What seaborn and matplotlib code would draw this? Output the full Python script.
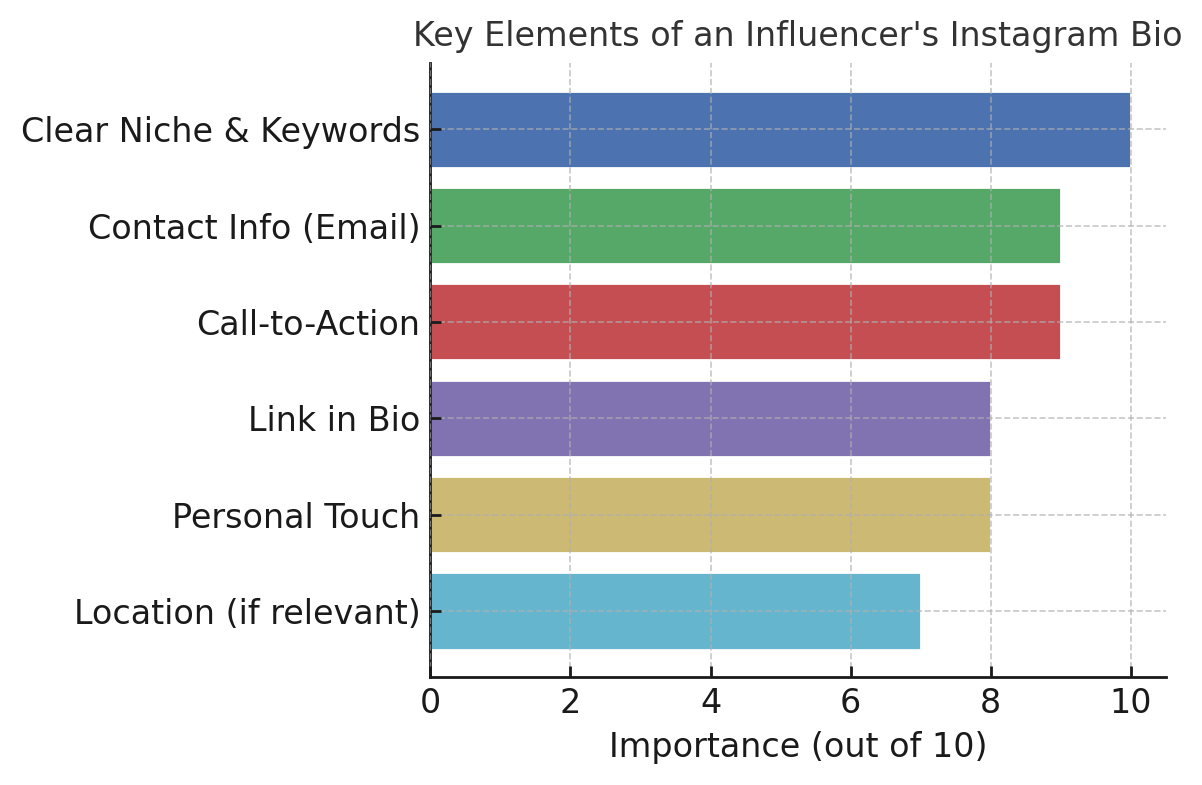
import matplotlib
matplotlib.use("Agg")
import matplotlib.pyplot as plt
import seaborn as sns
import pandas as pd

categories = ["Clear Niche & Keywords", "Contact Info (Email)", "Call-to-Action",
              "Link in Bio", "Personal Touch", "Location (if relevant)"]
values = [10, 9, 9, 8, 8, 7]
colors = ["#4C72B0", "#55A868", "#C44E52", "#8172B2", "#CCB974", "#64B5CD"]
xticks = [0, 2, 4, 6, 8, 10]

sns.set_theme(style="ticks")
plt.rcParams['font.family'] = ['DejaVu Sans']

df = pd.DataFrame({"Element": categories, "Importance": values})

fig, ax = plt.subplots(figsize=(6.01, 3.925), dpi=200)
sns.barplot(data=df, x="Importance", y="Element", hue="Element", palette=colors,
            legend=False, ax=ax, width=0.8, saturation=1)
ax.set_axisbelow(False)
ax.grid(True, linestyle="--", color="#b0b0b0", alpha=0.7, linewidth=0.6)
ax.set_xticks(xticks)
ax.set_xlim(0, 10.5)
ax.set_ylim(len(categories) - 0.5 + 0.19, -0.5 - 0.19)
ax.set_xlabel("Importance (out of 10)", fontsize=12, color="#1a1a1a")
ax.set_ylabel("")
ax.tick_params(axis="both", direction="in", labelsize=12, length=4, width=1, colors="#1a1a1a")
ax.set_title("Key Elements of an Influencer's Instagram Bio", fontsize=12, color="#333333")
sns.despine(ax=ax)
for s in ["left", "bottom"]:
    ax.spines[s].set_linewidth(1)
    ax.spines[s].set_color("#1a1a1a")
fig.subplots_adjust(left=0.358, right=0.97, top=0.92, bottom=0.137)
fig.savefig("out.png", dpi=200)
